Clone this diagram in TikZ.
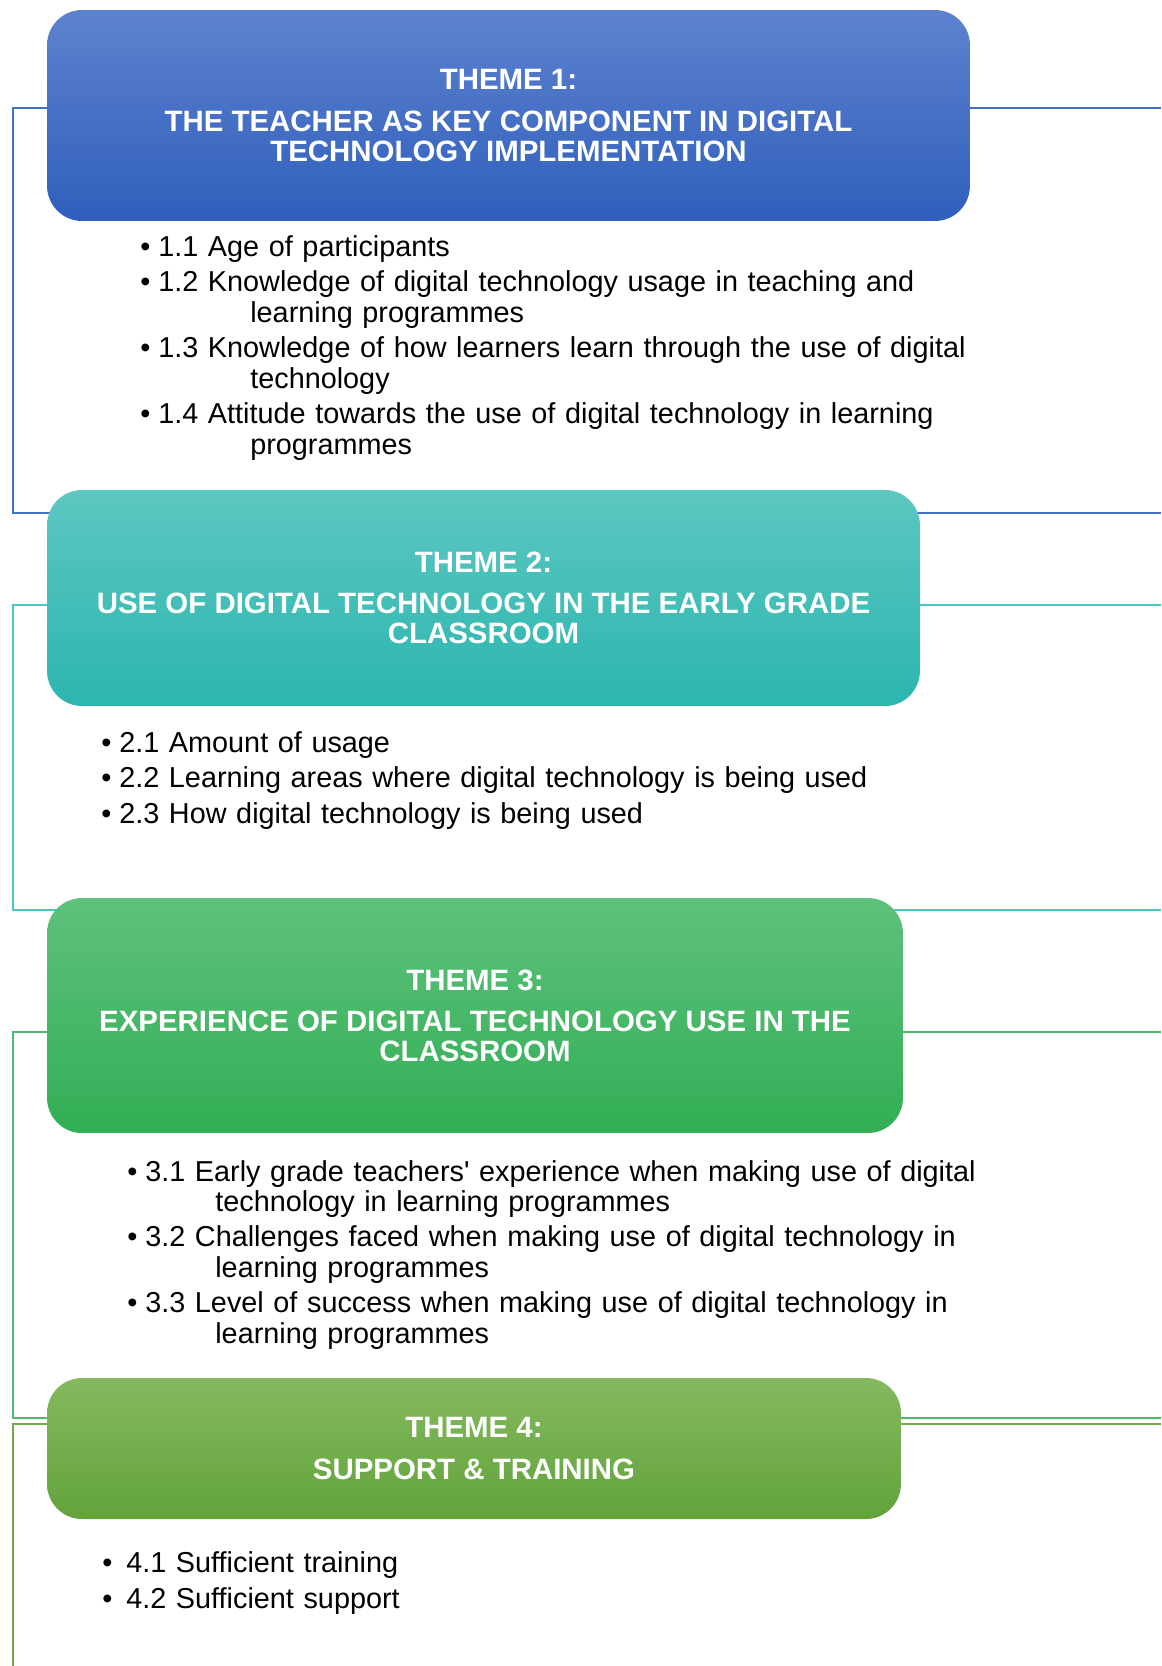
\documentclass[tikz,border=0pt]{standalone}
\usepackage{fontspec}
\setmainfont{Liberation Sans}[Ligatures=TeXOff]
\usepackage{xcolor}

\definecolor{blueTop}{RGB}{94,130,206}
\definecolor{blueBot}{RGB}{47,95,188}
\definecolor{blueLine}{RGB}{68,114,196}
\definecolor{tealTop}{RGB}{93,199,192}
\definecolor{tealBot}{RGB}{44,181,176}
\definecolor{tealLine}{RGB}{75,197,192}
\definecolor{greenTop}{RGB}{94,193,124}
\definecolor{greenBot}{RGB}{50,174,85}
\definecolor{greenLine}{RGB}{75,187,108}
\definecolor{limeTop}{RGB}{133,185,96}
\definecolor{limeBot}{RGB}{98,163,58}
\definecolor{limeLine}{RGB}{112,173,71}

\newcommand{\bul}{\makebox[0.36cm][l]{\textbullet}}

\begin{document}
\begin{tikzpicture}[x=0.02cm, y=-0.02cm,
    theme/.style 2 args={rectangle, rounded corners=0.7cm, minimum width=#1, minimum height=#2,
        inner sep=0pt, align=center, text=white, font=\bfseries\fontsize{16.75}{17.1}\selectfont},
    sublist/.style={anchor=base west, inner sep=0pt, text width=19cm, align=left,
        font=\fontsize{16.4}{17.5}\selectfont},
    frame/.style={line width=0.85pt}]
    \useasboundingbox (0,0) rectangle (1161,1666);

    % Brackets
    \draw[frame, blueLine] (1161,108) -- (13,108) -- (13,513) -- (1161,513);
    \draw[frame, tealLine] (1161,605) -- (13,605) -- (13,910) -- (1161,910);
    \draw[frame, greenLine] (1161,1032) -- (13,1032) -- (13,1418) -- (1161,1418);
    \draw[frame, limeLine] (1161,1424) -- (13,1424) -- (13,1666);

    % Themes
    \node[theme={18.46cm}{4.22cm}, top color=blueTop, bottom color=blueBot] (theme1) at (508.5,115.5)
        {THEME 1:\\[6.3pt] THE TEACHER AS KEY COMPONENT IN DIGITAL\\ TECHNOLOGY IMPLEMENTATION};
    \node[theme={17.46cm}{4.32cm}, top color=tealTop, bottom color=tealBot] (theme2) at (483.5,598)
        {THEME 2:\\[6.3pt] USE OF DIGITAL TECHNOLOGY IN THE EARLY GRADE\\ CLASSROOM};
    \node[theme={17.12cm}{4.7cm}, top color=greenTop, bottom color=greenBot] (theme3) at (475,1015.5)
        {THEME 3:\\[6.3pt] EXPERIENCE OF DIGITAL TECHNOLOGY USE IN THE\\ CLASSROOM};
    \node[theme={17.08cm}{2.82cm}, top color=limeTop, bottom color=limeBot] (theme4) at (474,1448.5)
        {THEME 4:\\[6.3pt] SUPPORT \& TRAINING};

    % Sub-themes
    \node[sublist] (sub1) at (140,256) {\bul 1.1 Age of participants\\[2.6pt]
        \bul 1.2 Knowledge of digital technology usage in teaching and\\
        \hspace*{2.2cm}learning programmes\\[2.6pt]
        \bul 1.3 Knowledge of how learners learn through the use of digital\\
        \hspace*{2.2cm}technology\\[2.6pt]
        \bul 1.4 Attitude towards the use of digital technology in learning\\
        \hspace*{2.2cm}programmes};
    \node[sublist] (sub2) at (101,752) {\bul 2.1 Amount of usage\\[2.8pt]
        \bul 2.2 Learning areas where digital technology is being used\\[2.8pt]
        \bul 2.3 How digital technology is being used};
    \node[sublist] (sub3) at (127,1181) {\bul 3.1 Early grade teachers' experience when making use of digital\\
        \hspace*{1.76cm}technology in learning programmes\\[2.4pt]
        \bul 3.2 Challenges faced when making use of digital technology in\\
        \hspace*{1.76cm}learning programmes\\[2.4pt]
        \bul 3.3 Level of success when making use of digital technology in\\
        \hspace*{1.76cm}learning programmes};
    \node[sublist] (sub4) at (102,1572) {\makebox[0.48cm][l]{\textbullet}4.1 Sufficient training\\[3.4pt]
        \makebox[0.48cm][l]{\textbullet}4.2 Sufficient support};
\end{tikzpicture}
\end{document}
